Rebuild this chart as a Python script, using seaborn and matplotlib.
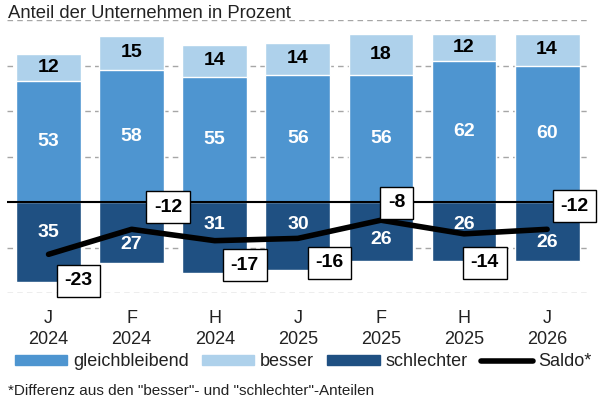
import numpy as np
import matplotlib
matplotlib.use("Agg")
import matplotlib.pyplot as plt
import seaborn as sns
from matplotlib.patches import Patch
from matplotlib.lines import Line2D

# Daten
perioden = ["J\n2024", "F\n2024", "H\n2024", "J\n2025", "F\n2025", "H\n2025", "J\n2026"]
gleichbleibend = [53, 58, 55, 56, 56, 62, 60]
besser = [12, 15, 14, 14, 18, 12, 14]
schlechter = [35, 27, 31, 30, 26, 26, 26]
saldo = [-23, -12, -17, -16, -8, -14, -12]

# Layout der Beschriftungen (nur Positionen)
schlechter_label_y = [-13.6, -18.9, -10.1, -10.1, -16.7, -10.1, -17.6]
saldo_label_dx = [0.36, 0.44, 0.36, 0.38, 0.19, 0.25, 0.33]
saldo_label_y = [-34.7, -2.2, -27.7, -26.8, -0.4, -26.8, -1.8]

c_mittel = "#4e95d0"
c_hell = "#aed1eb"
c_dunkel = "#1f5082"

sns.set_style("white")
plt.rcParams["font.family"] = ["Liberation Sans", "DejaVu Sans"]

fig = plt.figure(figsize=(5.99, 4.03), dpi=100)
ax = fig.add_axes([7 / 599, 110 / 403, 580 / 599, 273 / 403])

oben = [g + b for g, b in zip(gleichbleibend, besser)]
neg = [-s for s in schlechter]
x = np.arange(len(perioden))

sns.barplot(x=perioden, y=oben, color=c_hell, width=0.78, saturation=1, ax=ax, zorder=2)
sns.barplot(x=perioden, y=gleichbleibend, color=c_mittel, width=0.78, saturation=1, ax=ax, zorder=2)
sns.barplot(x=perioden, y=neg, color=c_dunkel, width=0.78, saturation=1, ax=ax, zorder=2)

ax.axhline(0, color="black", lw=1.5, zorder=3)
sns.lineplot(x=x, y=saldo, color="black", lw=4, ax=ax, zorder=4,
             solid_capstyle="round", solid_joinstyle="round")

ax.set_ylim(-40, 80)
ax.set_xlim(-0.5, 6.48)
ax.set_yticks([-40, -20, 20, 40, 60, 80])
ax.yaxis.grid(True, color="#a6a6a6", lw=1, ls=(0, (4, 3)), zorder=0)
ax.set_axisbelow(True)
ax.tick_params(axis="y", left=False, labelleft=False)
ax.tick_params(axis="x", length=0, pad=12, labelsize=13, labelcolor="#222222")
for lab in ax.get_xticklabels():
    lab.set_linespacing(1.32)
for s in ax.spines.values():
    s.set_visible(False)
ax.set_xlabel("")
ax.set_ylabel("")

for i in range(len(perioden)):
    ax.text(i, gleichbleibend[i] + besser[i] / 2, str(besser[i]), ha="center", va="center",
            fontsize=14, fontweight="bold", color="black", zorder=5)
    ax.text(i, gleichbleibend[i] / 2, str(gleichbleibend[i]), ha="center", va="center",
            fontsize=14, fontweight="bold", color="white", zorder=5)
    ax.text(i, schlechter_label_y[i], str(schlechter[i]), ha="center", va="center",
            fontsize=14, fontweight="bold", color="white", zorder=5)
    ax.text(i + saldo_label_dx[i], saldo_label_y[i], str(saldo[i]), ha="center", va="center",
            fontsize=14, fontweight="bold", color="black", zorder=6,
            bbox=dict(boxstyle="square,pad=0.4", fc="white", ec="black", lw=1))

fig.text(8 / 599, 1 - 13 / 403, "Anteil der Unternehmen in Prozent", ha="left", va="center",
         fontsize=13.3, color="#222222")

handles = [Patch(color=c_mittel), Patch(color=c_hell), Patch(color=c_dunkel),
           Line2D([0], [0], color="black", lw=4, solid_capstyle="round")]
labels = ["gleichbleibend", "besser", "schlechter", "Saldo*"]
fig.legend(handles, labels, loc="center", bbox_to_anchor=(303.5 / 599, 1 - 362 / 403), ncol=4,
           frameon=False, fontsize=13, handlelength=2.9, handleheight=0.5,
           handletextpad=0.3, columnspacing=0.75, borderpad=0, labelcolor="#222222")

fig.text(8 / 599, 1 - 391 / 403, '*Differenz aus den "besser"- und "schlechter"-Anteilen',
         ha="left", va="center", fontsize=11, color="#222222")

fig.savefig("out.png", dpi=100)
